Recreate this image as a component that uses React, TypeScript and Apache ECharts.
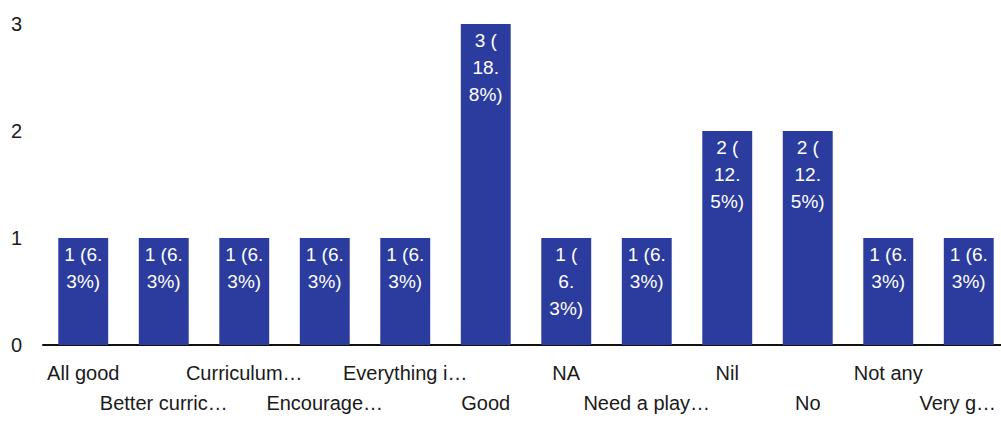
import React, { useEffect, useRef } from "react";
import * as echarts from "echarts";

const categories = [
  "All good",
  "Better curric…",
  "Curriculum…",
  "Encourage…",
  "Everything i…",
  "Good",
  "NA",
  "Need a play…",
  "Nil",
  "No",
  "Not any",
  "Very g…",
];
const counts = [1, 1, 1, 1, 1, 3, 1, 1, 2, 2, 1, 1];
const barLabels = [
  "1 (6.\n3%)",
  "1 (6.\n3%)",
  "1 (6.\n3%)",
  "1 (6.\n3%)",
  "1 (6.\n3%)",
  "3 (\n18.\n8%)",
  "1 (\n6.\n3%)",
  "1 (6.\n3%)",
  "2 (\n12.\n5%)",
  "2 (\n12.\n5%)",
  "1 (6.\n3%)",
  "1 (6.\n3%)",
];
const yTicks = [0, 1, 2, 3];

export default function App() {
  const ref = useRef<HTMLDivElement>(null);
  useEffect(() => {
    if (!ref.current) return;
    const chart = echarts.init(ref.current, undefined, { renderer: "svg" });
    const last = categories.length - 1;
    chart.setOption({
      animation: false,
      backgroundColor: "#ffffff",
      textStyle: { fontFamily: "Liberation Sans, Arial, sans-serif" },
      grid: {
        left: 43,
        right: 0,
        top: 24,
        bottom: 79,
        containLabel: false,
        outerBoundsMode: "none",
      },
      xAxis: {
        type: "category",
        data: categories,
        axisLine: { show: true, lineStyle: { color: "#111", width: 2 } },
        axisTick: { show: false },
        axisLabel: {
          interval: 0,
          color: "#1a1a1a",
          fontSize: 20,
          lineHeight: 30,
          margin: 13,
          formatter: (v: string, i: number) =>
            i === last ? "\n{r|" + v + "}" : i % 2 === 1 ? "\n" + v : v,
          rich: {
            r: {
              color: "#1a1a1a",
              fontSize: 20,
              lineHeight: 30,
              padding: [0, 22, 0, 0],
            },
          },
        },
      },
      yAxis: {
        type: "value",
        min: yTicks[0],
        max: yTicks[yTicks.length - 1],
        interval: 1,
        axisLine: { show: false },
        axisTick: { show: false },
        splitLine: { show: false },
        axisLabel: { color: "#1a1a1a", fontSize: 20, margin: 21 },
      },
      series: [
        {
          type: "bar",
          data: counts,
          barCategoryGap: "38%",
          itemStyle: { color: "#2b3c9e" },
          label: {
            show: true,
            position: "insideTop",
            distance: 3,
            color: "#ffffff",
            fontSize: 19,
            lineHeight: 27,
            formatter: (p: any) => barLabels[p.dataIndex],
          },
        },
      ],
    });
    return () => chart.dispose();
  }, []);
  return (
    <div
      style={{ position: "absolute", left: 0, top: 0, width: 1001, height: 424, overflow: "hidden" }}
    >
      <div ref={ref} style={{ width: 1009, height: 424 }} />
    </div>
  );
}
